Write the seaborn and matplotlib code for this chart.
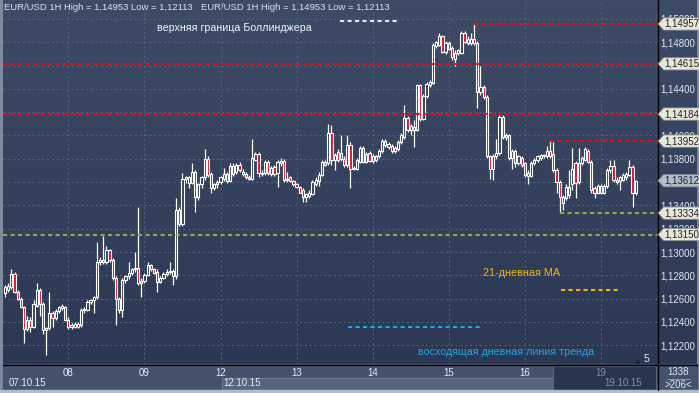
import numpy as np
import matplotlib
matplotlib.use("Agg")
import matplotlib.pyplot as plt
import matplotlib.transforms as mtransforms
from matplotlib.colors import LinearSegmentedColormap
from matplotlib.patches import Rectangle
from matplotlib.path import Path
import seaborn as sns

# EUR/USD 1H bars, 07.10.15 04:00 -> 19.10.15 11:00 (one row of 24 = one day)
opens = [
    1.1265, 1.1267, 1.1270, 1.1281, 1.1266, 1.1260, 1.1253, 1.1234, 1.1242, 1.1236, 1.1254, 1.1267, 1.1255, 1.1233, 1.1235, 1.1248, 1.1243, 1.1249, 1.1252, 1.1253,
    1.1242, 1.1236, 1.1236, 1.1238, 1.1237, 1.1250, 1.1250, 1.1257, 1.1259, 1.1261, 1.1291, 1.1293, 1.1291, 1.1302, 1.1293, 1.1278, 1.1260, 1.1250, 1.1276, 1.1279, 1.1282, 1.1285, 1.1286, 1.1273,
    1.1275, 1.1280, 1.1289, 1.1285, 1.1283, 1.1274, 1.1278, 1.1281, 1.1283, 1.1284, 1.1279, 1.1336, 1.1324, 1.1363, 1.1364, 1.1359, 1.1369, 1.1347, 1.1358, 1.1364, 1.1380, 1.1367, 1.1355, 1.1358,
    1.1360, 1.1363, 1.1367, 1.1361, 1.1374, 1.1369, 1.1375, 1.1369, 1.1367, 1.1364, 1.1363, 1.1379, 1.1384, 1.1367, 1.1368, 1.1377, 1.1367, 1.1373, 1.1368, 1.1376, 1.1378, 1.1362, 1.1364, 1.1361,
    1.1358, 1.1356, 1.1353, 1.1347, 1.1348, 1.1350, 1.1358, 1.1361, 1.1366, 1.1375, 1.1376, 1.1402, 1.1379, 1.1386, 1.1385, 1.1380, 1.1375, 1.1392, 1.1371, 1.1371, 1.1377, 1.1389, 1.1377, 1.1385,
    1.1378, 1.1379, 1.1382, 1.1387, 1.1395, 1.1390, 1.1391, 1.1387, 1.1388, 1.1394, 1.1399, 1.1415, 1.1405, 1.1405, 1.1405, 1.1443, 1.1414, 1.1434, 1.1443, 1.1445, 1.1477, 1.1478, 1.1485, 1.1472,
    1.1479, 1.1475, 1.1471, 1.1471, 1.1471, 1.1488, 1.1479, 1.1479, 1.1483, 1.1479, 1.1437, 1.1442, 1.1433, 1.1382, 1.1371, 1.1382, 1.1385, 1.1416, 1.1399, 1.1400, 1.1381, 1.1387, 1.1376, 1.1381,
    1.1376, 1.1365, 1.1365, 1.1376, 1.1379, 1.1381, 1.1382, 1.1382, 1.1387, 1.1384, 1.1370, 1.1360, 1.1347, 1.1346, 1.1356, 1.1358, 1.1376, 1.1360, 1.1376, 1.1379, 1.1387, 1.1377, 1.1355, 1.1351,
    1.1357, 1.1351, 1.1357, 1.1370, 1.1374, 1.1360, 1.1361, 1.1362, 1.1364, 1.1366, 1.1373, 1.1351,
]
highs = [
    1.1272, 1.1273, 1.1285, 1.1283, 1.1267, 1.1261, 1.1254, 1.1245, 1.1244, 1.1259, 1.1273, 1.1269, 1.1257, 1.1236, 1.1266, 1.1249, 1.1251, 1.1254, 1.1255, 1.1254,
    1.1244, 1.1239, 1.1240, 1.1240, 1.1252, 1.1253, 1.1259, 1.1260, 1.1262, 1.1309, 1.1296, 1.1314, 1.1305, 1.1303, 1.1295, 1.1279, 1.1261, 1.1278, 1.1280, 1.1291, 1.1286, 1.1300, 1.1339, 1.1278,
    1.1282, 1.1291, 1.1290, 1.1286, 1.1285, 1.1279, 1.1283, 1.1285, 1.1291, 1.1285, 1.1346, 1.1339, 1.1368, 1.1365, 1.1365, 1.1376, 1.1370, 1.1359, 1.1365, 1.1388, 1.1382, 1.1369, 1.1359, 1.1362,
    1.1365, 1.1372, 1.1369, 1.1376, 1.1376, 1.1376, 1.1377, 1.1371, 1.1369, 1.1366, 1.1397, 1.1386, 1.1386, 1.1370, 1.1379, 1.1379, 1.1374, 1.1375, 1.1379, 1.1381, 1.1380, 1.1369, 1.1365, 1.1362,
    1.1359, 1.1357, 1.1355, 1.1351, 1.1353, 1.1362, 1.1364, 1.1369, 1.1379, 1.1379, 1.1410, 1.1409, 1.1385, 1.1388, 1.1400, 1.1382, 1.1400, 1.1394, 1.1374, 1.1381, 1.1391, 1.1391, 1.1386, 1.1387,
    1.1384, 1.1383, 1.1388, 1.1397, 1.1397, 1.1394, 1.1393, 1.1391, 1.1396, 1.1402, 1.1426, 1.1417, 1.1410, 1.1413, 1.1444, 1.1444, 1.1436, 1.1446, 1.1448, 1.1479, 1.1481, 1.1488, 1.1486, 1.1481,
    1.1481, 1.1477, 1.1473, 1.1474, 1.1490, 1.1490, 1.1485, 1.1488, 1.14953, 1.1481, 1.1460, 1.1443, 1.1435, 1.1383, 1.1384, 1.1397, 1.1418, 1.1418, 1.1402, 1.1401, 1.1388, 1.1388, 1.1383, 1.1382,
    1.1377, 1.1370, 1.1378, 1.1381, 1.1383, 1.1384, 1.1384, 1.1391, 1.13952, 1.1394, 1.1372, 1.1362, 1.1349, 1.1358, 1.1370, 1.1389, 1.1378, 1.1389, 1.1382, 1.1390, 1.1388, 1.1379, 1.1357, 1.1358,
    1.1358, 1.1358, 1.1372, 1.1379, 1.1379, 1.1364, 1.1365, 1.1368, 1.1369, 1.1379, 1.1375, 1.1362,
]
lows = [
    1.1261, 1.1266, 1.1268, 1.1265, 1.1259, 1.1252, 1.1222, 1.1232, 1.1231, 1.1235, 1.1253, 1.1245, 1.1230, 1.12113, 1.1233, 1.1236, 1.1242, 1.1248, 1.1250, 1.1241,
    1.1234, 1.1234, 1.1235, 1.1235, 1.1236, 1.1248, 1.1249, 1.1255, 1.1248, 1.1260, 1.1289, 1.1290, 1.1290, 1.1291, 1.1276, 1.1237, 1.1248, 1.1244, 1.1273, 1.1277, 1.1280, 1.1283, 1.1272, 1.1261,
    1.1273, 1.1279, 1.1284, 1.1281, 1.1266, 1.1273, 1.1277, 1.1279, 1.1281, 1.1272, 1.1277, 1.1322, 1.1322, 1.1359, 1.1355, 1.1358, 1.1334, 1.1345, 1.1355, 1.1362, 1.1364, 1.1351, 1.1353, 1.1355,
    1.1358, 1.1361, 1.1359, 1.1360, 1.1365, 1.1367, 1.1369, 1.1365, 1.1363, 1.1362, 1.1362, 1.1378, 1.1364, 1.1365, 1.1366, 1.1366, 1.1365, 1.1365, 1.1356, 1.1374, 1.1360, 1.1360, 1.1360, 1.1357,
    1.1355, 1.1351, 1.1343, 1.1343, 1.1346, 1.1349, 1.1357, 1.1357, 1.1365, 1.1374, 1.1375, 1.1375, 1.1370, 1.1377, 1.1378, 1.1373, 1.1373, 1.1355, 1.1370, 1.1370, 1.1376, 1.1376, 1.1376, 1.1377,
    1.1376, 1.1377, 1.1381, 1.1385, 1.1390, 1.1388, 1.1385, 1.1385, 1.1387, 1.1393, 1.1397, 1.1403, 1.1400, 1.1390, 1.1404, 1.1412, 1.1413, 1.1432, 1.1442, 1.1444, 1.1475, 1.1477, 1.1471, 1.1470,
    1.1473, 1.1465, 1.1460, 1.1469, 1.1470, 1.1479, 1.1478, 1.1478, 1.1478, 1.1424, 1.1435, 1.1431, 1.1381, 1.1363, 1.1362, 1.1380, 1.1383, 1.1397, 1.1396, 1.1379, 1.1371, 1.1373, 1.1375, 1.1373,
    1.1364, 1.1358, 1.1364, 1.1375, 1.1377, 1.1379, 1.1381, 1.1381, 1.1381, 1.1369, 1.1351, 1.13334, 1.1336, 1.1345, 1.1346, 1.1353, 1.1346, 1.1358, 1.1375, 1.1378, 1.1376, 1.1351, 1.1346, 1.1350,
    1.1350, 1.1350, 1.1355, 1.1368, 1.1360, 1.1358, 1.1353, 1.1361, 1.1362, 1.1365, 1.1339, 1.1349,
]
closes = [
    1.1270, 1.1271, 1.1281, 1.1266, 1.1260, 1.1253, 1.1234, 1.1242, 1.1236, 1.1255, 1.1267, 1.1255, 1.1233, 1.1235, 1.1248, 1.1243, 1.1249, 1.1253, 1.1254, 1.1242,
    1.1236, 1.1237, 1.1238, 1.1236, 1.1250, 1.1251, 1.1257, 1.1259, 1.1261, 1.1291, 1.1293, 1.1291, 1.1302, 1.1293, 1.1278, 1.1260, 1.1250, 1.1276, 1.1279, 1.1282, 1.1285, 1.1286, 1.1273, 1.1275,
    1.1280, 1.1289, 1.1285, 1.1282, 1.1274, 1.1278, 1.1281, 1.1283, 1.1284, 1.1279, 1.1336, 1.1324, 1.1363, 1.1364, 1.1359, 1.1369, 1.1347, 1.1358, 1.1364, 1.1380, 1.1366, 1.1355, 1.1358, 1.1360,
    1.1364, 1.1367, 1.1361, 1.1374, 1.1367, 1.1375, 1.1370, 1.1367, 1.1364, 1.1363, 1.1381, 1.1384, 1.1368, 1.1368, 1.1377, 1.1368, 1.1372, 1.1367, 1.1377, 1.1378, 1.1362, 1.1363, 1.1361, 1.1358,
    1.1356, 1.1351, 1.1347, 1.1350, 1.1351, 1.1360, 1.1362, 1.1366, 1.1377, 1.1377, 1.1402, 1.1379, 1.1383, 1.1379, 1.1380, 1.1375, 1.1392, 1.1371, 1.1372, 1.1379, 1.1389, 1.1377, 1.1384, 1.1378,
    1.1382, 1.1382, 1.1387, 1.1395, 1.1392, 1.1393, 1.1387, 1.1389, 1.1394, 1.1400, 1.1415, 1.1405, 1.1408, 1.1407, 1.1443, 1.1414, 1.1434, 1.1444, 1.1446, 1.1478, 1.1480, 1.1485, 1.1472, 1.1479,
    1.1474, 1.1467, 1.1466, 1.1473, 1.1488, 1.1480, 1.1483, 1.1483, 1.1479, 1.1437, 1.1442, 1.1433, 1.1382, 1.1371, 1.1382, 1.1385, 1.1416, 1.1399, 1.1400, 1.1381, 1.1387, 1.1376, 1.1382, 1.1375,
    1.1366, 1.1368, 1.1376, 1.1379, 1.1382, 1.1383, 1.1383, 1.1387, 1.1382, 1.1370, 1.1360, 1.1347, 1.1342, 1.1356, 1.1349, 1.1371, 1.1359, 1.1376, 1.1381, 1.1388, 1.1377, 1.1353, 1.1351, 1.1357,
    1.1351, 1.1357, 1.1370, 1.1374, 1.1362, 1.1362, 1.1364, 1.1366, 1.1367, 1.1373, 1.1351, 1.13612,
]

# first bar of each trading day / week
day_bars = [20, 44, 68, 92, 116, 140, 164, 188]
day_labels = ["08", "09", "12", "13", "14", "15", "16", "19"]
week_bars = [0, 68, 188]
week_labels = ["07.10.15", "12.10.15", "19.10.15"]

# horizontal levels and the bar each one is drawn from (None = whole chart)
res_levels = [1.14957, 1.14615, 1.14184, 1.13952]
res_from = [148, None, None, 172]
sup_levels = [1.13334, 1.13150]
sup_from = [175, None]

price_ticks = [1.122, 1.124, 1.126, 1.128, 1.130, 1.132, 1.134, 1.136,
               1.138, 1.140, 1.142, 1.144, 1.146, 1.148, 1.150]

sns.set_theme(style="dark")
plt.rcParams["font.family"] = ["Liberation Sans", "DejaVu Sans"]

BG_TOP, BG_BOT = "#3e4b67", "#2c3853"
RED, GREEN = "#e5101e", "#86b04a"
ORANGE, BLUE, WHITE = "#f2b705", "#1ea7e6", "#e2e7ef"


def tag_box(x0, y0, width, height, mutation_size):
    # price flag: box with a pointed left side
    pad = mutation_size * 0.12
    x0, y0 = x0 - pad, y0 - pad
    x1, y1 = x0 + width + 2 * pad, y0 + height + 2 * pad
    tip = (y1 - y0) * 0.45
    return Path([(x0, y0), (x1, y0), (x1, y1), (x0, y1),
                 (x0 - tip, (y0 + y1) / 2), (x0, y0)], closed=True)


def fmt(v):
    return f"{v:.5f}".replace(".", ",")


fig = plt.figure(figsize=(6.99, 3.93), dpi=100)
fig.patch.set_facecolor("#7f8a9e")

# terminal frame, drawn in pixel coordinates
bg = fig.add_axes([0, 0, 1, 1], zorder=-1)
grad = LinearSegmentedColormap.from_list("panel", [BG_TOP, BG_BOT])
bg.imshow(np.linspace(0, 1, 256).reshape(-1, 1), cmap=grad,
          extent=(3, 697, 364, 0), aspect="auto")
bg.add_patch(Rectangle((3, 364), 694, 26, color="#44526c"))
bg.add_patch(Rectangle((222, 378), 331, 13, fc="#56647e", ec="#6b7891", lw=0.8))
bg.add_patch(Rectangle((553, 366), 103, 25, fc="#29344d", ec="#55627c", lw=0.8))
bg.add_patch(Rectangle((0, 390), 699, 3, color="#b3bbc7"))
bg.plot([3, 697], [364.5, 364.5], color="black", lw=1)
bg.plot([657.5, 657.5], [0, 390], color="black", lw=1)
bg.plot([667, 690], [378.5, 378.5], color="#9aa5b8", lw=0.6)
bg.text(678, 372, "1338", ha="center", va="center", fontsize=7, color=WHITE)
bg.text(678, 385, ">206<", ha="center", va="center", fontsize=7, color=WHITE)
bg.text(638, 361, "\u25b2", ha="center", va="center", fontsize=5, color="#1c2537",
        family=["DejaVu Sans"])
bg.text(646, 359, "5", ha="center", va="center", fontsize=7.5, color=WHITE)
header = f"EUR/USD 1H High = {fmt(max(highs))} Low = {fmt(min(lows))}"
bg.text(4, 8, header, ha="left", va="center", fontsize=6.8, color="#dbe2ee")
bg.text(201, 8, header, ha="left", va="center", fontsize=6.8, color="#dbe2ee")
bg.set_xlim(0, 699)
bg.set_ylim(393, 0)
bg.axis("off")

ax = fig.add_axes([3 / 699, 29 / 393, 654 / 699, 363 / 393])
ax.set_facecolor("none")
for s in ax.spines.values():
    s.set_visible(False)

x = np.arange(len(closes))
o, h, l, c = (np.array(a) for a in (opens, highs, lows, closes))
up = c >= o
ax.vlines(x, l, h, color="white", lw=0.9, zorder=3)
ax.bar(x[up], c[up] - o[up], bottom=o[up], width=0.7, facecolor="#34415d",
       edgecolor="white", linewidth=0.8, zorder=4)
ax.bar(x[~up], o[~up] - c[~up], bottom=c[~up], width=0.7, facecolor="#e3102b",
       edgecolor="white", linewidth=0.8, zorder=4)

x_lo, x_hi = -0.63, 205.7
dash = (0, (2, 1.6))
flag_values = []
for levels, starts, col in ((res_levels, res_from, RED), (sup_levels, sup_from, GREEN)):
    for lvl, start in zip(levels, starts):
        x0 = x_lo if start is None else start
        ax.hlines(lvl, x0, x_hi, colors=col, lw=1.5, linestyles=[dash], zorder=5)
        ax.annotate(fmt(lvl), xy=(1, lvl), xycoords=("axes fraction", "data"),
                    xytext=(5.6, 0), textcoords="offset points", ha="left", va="center",
                    fontsize=7, color="#1b2233", annotation_clip=False, zorder=10,
                    bbox=dict(boxstyle=tag_box, fc="#e8e6d4", ec="#80858f", lw=0.6))
        flag_values.append(lvl)
# current price flag
ax.annotate(fmt(closes[-1]), xy=(1, closes[-1]), xycoords=("axes fraction", "data"),
            xytext=(5.6, 0), textcoords="offset points", ha="left", va="center",
            fontsize=7, color="#1b2233", annotation_clip=False, zorder=10,
            bbox=dict(boxstyle=tag_box, fc="#b4bdca", ec="#80858f", lw=0.6))
flag_values.append(closes[-1])

# legend-like notes of the original chart
ax.hlines(1.1498, 105.7, 124.6, colors=WHITE, lw=1.5, linestyles=[dash], zorder=5)
ax.text(47.9, 1.1492, "верхняя граница Боллинджера", fontsize=7.7, color="#f2f4f8",
        ha="left", va="center")
ax.text(150.8, 1.1282, "21-дневная МА", fontsize=7.8, color=ORANGE, ha="left", va="center")
ax.hlines(1.1267, 175.4, 193.4, colors=ORANGE, lw=1.5, linestyles=[dash], zorder=5)
ax.hlines(1.1236, 108.2, 150.5, colors=BLUE, lw=1.5, linestyles=[dash], zorder=5)
ax.text(130.3, 1.1214, "восходящая дневная линия тренда", fontsize=7.7, color=BLUE,
        ha="left", va="center")

# tick labels sitting right under a price flag are not visible in the terminal
tick_text = [("" if min(abs(t - v) for v in flag_values) < 0.0003 else fmt(t))
             for t in price_ticks]

ax.set_xlim(x_lo, x_hi)
ax.set_ylim(1.12039, 1.15154)
ax.set_xticks(day_bars, day_labels)
ax.set_yticks(price_ticks, tick_text)
ax.yaxis.tick_right()
ax.tick_params(axis="x", length=0, pad=3, labelsize=7, labelcolor="#e8ecf2")
ax.tick_params(axis="y", length=0, pad=2.6, labelsize=7, labelcolor="#e4e8ef")
ax.get_xticklabels()[-1].set_color("#8390a6")
ax.grid(True, color="#56648a", lw=0.7, linestyle=(0, (2, 3)))
ax.set_axisbelow(True)

week_tf = mtransforms.blended_transform_factory(ax.transData, ax.transAxes)
for b, lab in zip(week_bars, week_labels):
    col = "#8390a6" if b == week_bars[-1] else "#e8ecf2"
    ax.text(b + 1.0, -0.052, lab, transform=week_tf, fontsize=7, color=col,
            ha="left", va="center")

fig.savefig("out.png", dpi=100, facecolor=fig.get_facecolor())
